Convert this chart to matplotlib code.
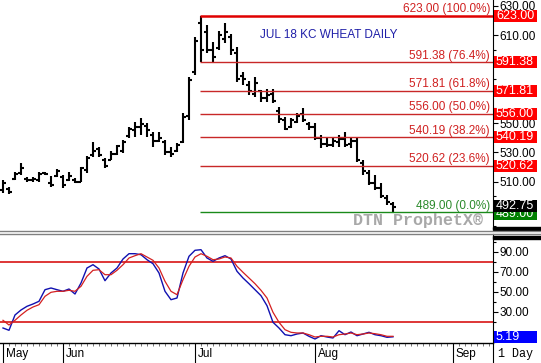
import matplotlib
matplotlib.use("Agg")
import matplotlib.pyplot as plt
import matplotlib.transforms as mtransforms
from matplotlib.patches import Rectangle
from matplotlib.lines import Line2D
from matplotlib.ticker import FixedLocator, FuncFormatter
import numpy as np

# daily bars, 17 May .. 18 Aug (index 0 = first visible bar)
opens = [504, 505, 512, 516, 512, 511, 511, 516, 509, 514,
         513, 511, 511, 510, 518, 528, 532, 525, 525, 529,
         531, 541, 545, 547, 548, 542, 538, 537, 530, 531,
         537, 555, 585, 618, 612, 600, 601, 607, 609, 598,
         582, 576, 570, 572, 567, 570, 558, 552, 547, 551,
         556, 549, 547, 540, 536, 535, 537, 539, 536, 538,
         523, 516, 509, 506, 499, 495]
highs = [511.2, 506.4, 516.6, 522.8, 513.2, 513.2, 516.6, 516.6, 513.9, 518.7,
         514.6, 516.6, 512.5, 520.1, 527.5, 537.1, 533.7, 526.2, 531.0, 535.1,
         538.5, 547.3, 550.7, 553.5, 550.0, 543.9, 543.9, 538.5, 533.7, 536.4,
         556.9, 581.4, 608.7, 623.0, 616.9, 605.3, 612.8, 618.2, 610.7, 601.9,
         584.8, 578.7, 581.4, 572.6, 573.2, 573.2, 560.9, 554.1, 553.5, 556.9,
         560.3, 550.7, 550.0, 541.9, 540.5, 540.5, 541.9, 543.9, 540.5, 539.8,
         524.8, 518.0, 514.6, 509.1, 501.0, 496.2]
lows = [502.3, 501.6, 511.2, 514.6, 509.8, 509.8, 509.8, 514.6, 506.4, 513.2,
        505.7, 510.5, 509.1, 509.8, 516.0, 526.9, 526.9, 519.4, 524.8, 528.2,
        529.6, 539.8, 540.5, 541.9, 540.5, 533.7, 537.1, 528.2, 526.9, 530.3,
        536.4, 552.1, 582.8, 591.4, 597.8, 591.6, 599.8, 604.6, 596.4, 578.0,
        576.0, 569.1, 567.8, 564.4, 564.4, 563.7, 550.0, 545.3, 546.6, 550.0,
        550.7, 545.3, 538.5, 533.0, 533.7, 533.7, 533.7, 533.7, 533.0, 523.5,
        514.6, 507.8, 504.4, 498.9, 494.1, 489.0]
closes = [509, 503, 515, 519, 511, 512, 515, 515, 508, 517,
          508, 514, 510, 519, 526, 531, 528, 521, 529, 534,
          537, 546, 547, 549, 545, 538, 540, 530, 529, 535,
          554, 579, 606, 600, 600, 595, 610, 612, 600, 580,
          580, 572, 577, 567, 569, 565, 553, 546, 552, 555,
          552, 547, 540, 536, 535, 538, 539, 535, 538, 525,
          517, 509, 506, 500, 496, 492.75]

# slow stochastics
stoch_k = [14, 11.7, 27, 32, 35.7, 38, 40.7, 52.3, 54, 52.3,
           50.7, 53, 48, 59, 74, 77.3, 73, 61.3, 69, 74,
           83, 88.3, 88.3, 87.3, 82.3, 78.3, 69, 50.7, 42.3, 44,
           69, 85.7, 91.7, 92.3, 84, 80.7, 84, 86.3, 83, 70.7,
           64, 58.3, 52.3, 46.3, 36.3, 19.7, 14, 7.3, 6.3, 8,
           9, 5.7, 3, 6.3, 5, 4, 11.3, 7.3, 10, 6.3,
           8, 9.7, 7.3, 6.3, 4.7, 5.19]
stoch_d = [21.7, 17, 21.7, 27, 31.7, 35, 37.3, 45.7, 49.7, 50.7,
           50.7, 51.7, 50.7, 55.7, 65.7, 71.7, 72.3, 67.3, 67.3, 71.7,
           77.3, 84, 86.3, 88.3, 85, 81.7, 74, 60.7, 50.7, 47.3,
           62.3, 75.7, 85, 88.3, 85.7, 82.3, 83, 85, 84, 75.7,
           69.7, 64, 58.3, 51.7, 44, 29.7, 19.7, 12.3, 9.7, 9,
           9, 7.3, 5, 5.7, 5.7, 5, 7.3, 8, 9, 7.3,
           8, 9, 8.3, 7.3, 5.7, 5.7]

month_names = ["May", "Jun", "Jul", "Aug", "Sep"]
month_idx = [0, 10, 32, 52, 75]

swing_high = 623.00
swing_low = 489.00
fib_pcts = [100.0, 76.4, 61.8, 50.0, 38.2, 23.6, 0.0]
fib_start = 32.8

W, H = 541, 363
def fx(px):
    return px / W
def fy(py):
    return 1 - py / H

fig = plt.figure(figsize=(W / 100, H / 100), dpi=100)
fig.patch.set_facecolor("white")
plt.rcParams['font.family'] = ['Liberation Sans', 'DejaVu Sans']

ax = fig.add_axes([0, fy(228), fx(493), 228 / H])
ax2 = fig.add_axes([0, fy(343), fx(493), (343 - 234) / H])

xmax = (493 - 3) / 6.0
x = np.arange(len(highs))

#### price panel
ax.vlines(x, lows, highs, color="black", lw=1.5)
ax.hlines(opens, x - 0.45, x, color="black", lw=1.5)
ax.hlines(closes, x, x + 0.45, color="black", lw=1.5)

fib_levels = [swing_low + p / 100.0 * (swing_high - swing_low) for p in fib_pcts]

tr = mtransforms.blended_transform_factory(ax.transAxes, ax.transData)
for p, lvl in zip(fib_pcts, fib_levels):
    if p == 0.0:
        col, lcol, lw = "#1a8a1a", "#2a8a2a", 1.0
    elif p == 100.0:
        col, lcol, lw = "#e00000", "#d02020", 1.8
    else:
        col, lcol, lw = "#c82828", "#d02020", 1.0
    ax.hlines(lvl, fib_start, xmax, color=col, lw=lw)
    ax.text(0.994, lvl + 0.5, "%.2f (%.1f%%)" % (lvl, p), transform=tr,
            ha="right", va="bottom", color=lcol, fontsize=8.5)

def value_box(axis, y, h_units, text, fc, z=6):
    t = mtransforms.blended_transform_factory(axis.transAxes, axis.transData)
    axis.add_patch(Rectangle((1 + 1.0 / 493, y - h_units / 2), 43.0 / 493, h_units,
                             transform=t, fc=fc, ec="none", clip_on=False, zorder=z))
    axis.text(1 + 3.0 / 493, y, text, transform=t, ha="left", va="center",
              color="white", fontsize=9, zorder=z + 0.5, clip_on=False)

for p, lvl in zip(fib_pcts, fib_levels):
    if p == 0.0:
        value_box(ax, lvl - 1.0, 8.2, "%.2f" % lvl, "#008000", z=6)
    else:
        value_box(ax, lvl, 8.2, "%.2f" % lvl, "#ff0000", z=6)
value_box(ax, closes[-1] + 0.4, 8.2, "%.2f" % closes[-1], "#000000", z=8)

# price labels that sit completely under a value box are left blank
hidden = [490, 570, 590]
ax.set_xlim(-0.5, xmax)
ax.set_ylim(478.4, 633.9)
ax.set_xticks([])
ax.yaxis.tick_right()
ax.yaxis.set_major_locator(FixedLocator(np.arange(490, 631, 20)))
ax.yaxis.set_minor_locator(FixedLocator(np.arange(480, 634, 10)))
ax.yaxis.set_major_formatter(FuncFormatter(
    lambda v, pos: "" if round(v) in hidden else "%.2f" % v))
ax.tick_params(axis="y", which="major", length=3.5, width=0.8, pad=1, labelsize=8.5)
ax.tick_params(axis="y", which="minor", length=2, width=0.8)
for s in ["left", "top", "bottom"]:
    ax.spines[s].set_visible(False)
ax.spines["right"].set_linewidth(0.8)

fig.text(fx(260), fy(35), "JUL 18 KC WHEAT DAILY", color="#1f1fa8",
         fontsize=8.5, ha="left", va="center")
fig.text(fx(483), fy(220), "DTN ProphetX\u00ae", color="#a8a8a8",
         family=["Liberation Mono", "DejaVu Sans Mono"], fontweight="bold",
         fontsize=12, ha="right", va="center")

#### stochastic panel
ax2.axhline(80, color="#d40000", lw=1.1)
ax2.axhline(20, color="#d40000", lw=1.1)
ax2.plot(x, stoch_k, color="#1010b0", lw=1.0)
ax2.plot(x, stoch_d, color="#d42020", lw=0.9)
value_box(ax2, stoch_k[-1], 12, "%.2f" % stoch_k[-1], "#0000ff")

ax2.set_xlim(-0.5, xmax)
ax2.set_ylim(-1, 108)
ax2.yaxis.tick_right()
ax2.yaxis.set_major_locator(FixedLocator([10, 30, 50, 70, 90]))
ax2.yaxis.set_minor_locator(FixedLocator([0, 20, 40, 60, 80, 100]))
ax2.yaxis.set_major_formatter(FuncFormatter(
    lambda v, pos: "" if round(v) == 10 else "%.2f" % v))
ax2.tick_params(axis="y", which="major", length=3.5, width=0.8, pad=1, labelsize=8.5)
ax2.tick_params(axis="y", which="minor", length=2, width=0.8)
ax2.set_xticks(month_idx)
ax2.set_xticklabels([])
ax2.set_xticks(np.arange(0, int(xmax) + 1), minor=True)
ax2.tick_params(axis="x", which="major", length=14.4, width=0.8, direction="out")
ax2.tick_params(axis="x", which="minor", length=2, width=0.6, color="#606060")
for s in ["left", "top"]:
    ax2.spines[s].set_visible(False)
ax2.spines["right"].set_linewidth(0.8)
ax2.spines["bottom"].set_linewidth(1.0)

trm = mtransforms.blended_transform_factory(ax2.transData, fig.transFigure)
for name, idx in zip(month_names, month_idx):
    ax2.text(idx + 0.5, fy(354), name, transform=trm, ha="left", va="center",
             fontsize=8.5, clip_on=False)

fig.text(fx(498), fy(354), "1 Day", family=["Liberation Mono", "DejaVu Sans Mono"],
         fontsize=8.5, ha="left", va="center")

#### separators
fig.add_artist(Line2D([fx(493), fx(493)], [fy(343), fy(363)], color="black", lw=0.8))
fig.add_artist(Line2D([0, 1], [fy(231), fy(231)], color="#808080", lw=1.0))
fig.add_artist(Line2D([0, 1], [fy(233.5), fy(233.5)], color="#808080", lw=1.0))
fig.add_artist(Rectangle((fx(493), fy(230)), fx(48), 3.5 / H, color="black",
                         transform=fig.transFigure))
fig.add_artist(Rectangle((fx(493), fy(239)), fx(48), 3 / H, color="black",
                         transform=fig.transFigure))

fig.savefig("out.png", dpi=100)
